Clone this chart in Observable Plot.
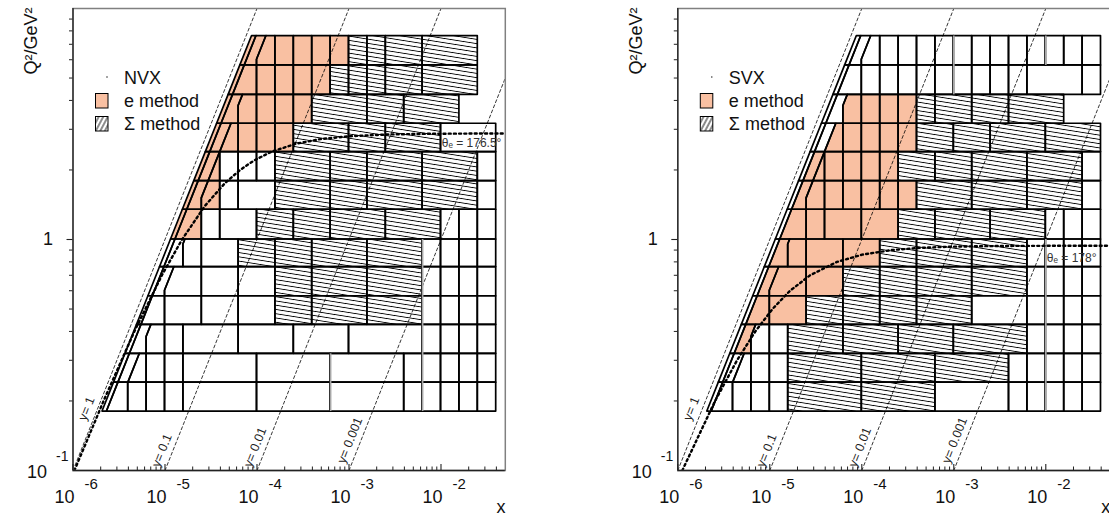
<!DOCTYPE html>
<html><head><meta charset="utf-8">
<script src="https://cdn.jsdelivr.net/npm/d3@7"></script>
<script src="https://cdn.jsdelivr.net/npm/@observablehq/plot@0.6"></script>
<style>
html,body{margin:0;padding:0;background:#fff;overflow:hidden}
#wrap{position:relative;width:1109px;height:516px;overflow:hidden}
#wrap svg{position:absolute;top:0}
</style></head><body>
<svg width="0" height="0" style="position:absolute">
 <defs>
  <pattern id="hatch" patternUnits="userSpaceOnUse" width="12" height="4.2" patternTransform="rotate(9)">
   <rect width="12" height="4.2" fill="#fff"/>
   <line x1="0" y1="2.1" x2="12" y2="2.1" stroke="#000" stroke-width="0.9"/>
  </pattern>
  <pattern id="hatchLeg" patternUnits="userSpaceOnUse" width="8" height="4" patternTransform="rotate(-62)">
   <rect width="8" height="4" fill="#fff"/>
   <line x1="0" y1="2" x2="8" y2="2" stroke="#000" stroke-width="0.9"/>
  </pattern>
 </defs>
</svg>
<div id="wrap"></div>
<script>
// ---------------- data ----------------
const S = 1e5;                       // Q^2 = S * x * y
const Y_OUTER = 0.86, Y_INNER = 0.77, Y_CUT = 0.6;   // slanted bin edges (in y)
const Q2_EDGES = [0.18, 0.24, 0.32, 0.427, 0.568, 0.76, 1.0, 1.345, 1.79, 2.39, 3.17, 4.23, 5.67, 7.6];
const X_EDGES = [1.0e-6, 1.585e-6, 2.512e-6, 3.981e-6, 6.310e-6, 1.0e-5, 1.585e-5, 2.512e-5, 3.981e-5, 6.310e-5,
                 1.0e-4, 1.585e-4, 2.512e-4, 3.981e-4, 6.310e-4, 1.0e-3, 1.585e-3, 2.512e-3, 3.981e-3, 6.310e-3,
                 1.0e-2, 1.585e-2, 2.512e-2, 3.981e-2];
const CUT_COL = [3, 3, 4, 5, 5, 6, 7, 7, 7, 8, 9, 10, 10];

// fills: e = e method (salmon), s = Sigma method (hatched), n = none
const NVX_STRIP = ["n","n","n","n","n","n","e","e","e","e","e","e","e"];
const NVX_C2    = ["n","n","n","n","n","n","e","e","e","e","e","e","e"];
const NVX_CELLS = [
  "4n 5n 6n 10n 14n 18n 19n 20n 21n 22n 23n",
  "4n 5n 6n 10n 14n 18n 19n 20n 21n 22n 23n",
  "5n 6n 9n 12n 15n 19n 20n 21n 22n 23n",
  "7n 9n 11n 13s 16s 19s 20n 21n 22n 23n",
  "7n 9n 11n 13s 16s 19s 20n 21n 22n 23n",
  "7n 9n 11s 13s 16s 19s 20n 21n 22n 23n",
  "8n 10n 12s 14s 17s 20s 21n 22n 23n",
  "8e 9n 11n 14s 16s 19s 22s 23n",
  "8e 9n 10n 11n 14s 16s 19s 22s 23n",
  "9e 10e 11e 12e 15s 17s 20s 23n",
  "10e 11e 12e 13e 16s 18s 21s",
  "11e 12e 13e 14e 15s 16s 17s 19s 22s",
  "11e 12e 13e 14e 15e 16s 17s 19s 22s"
];
const NVX_GRAY = [[14, 0, 1], [19, 0, 5]];

const SVX_STRIP = ["n","n","n","n","n","n","n","n","n","n","n","n","n"];
const SVX_C2    = ["n","n","e","e","e","e","e","e","e","n","n","n","n"];
const SVX_CELLS = [
  "4n 5n 6n 10s 14s 18n 19n 20n 21n 22n 23n",
  "4n 5n 6n 10s 14s 18s 19n 20n 21n 22n 23n",
  "5n 6n 9s 12s 15s 19s 20n 21n 22n 23n",
  "7e 9s 11s 13s 16s 19n 20n 21n 22n 23n",
  "7e 9e 11s 13s 16s 19s 20n 21n 22n 23n",
  "7e 9e 11e 13s 16s 19s 20n 21n 22n 23n",
  "8e 10e 12e 14s 17s 20s 21n 22n 23n",
  "8e 9e 10e 11e 12e 13e 16s 19s 22s 23n",
  "8e 9e 10e 11e 12e 14s 16s 19s 22s 23n",
  "9e 10e 11e 12e 13e 15s 17s 20s 23s",
  "10e 11e 12e 13e 14s 16s 18s 21s",
  "11n 12n 13n 14n 15n 16n 17n 18n 19n 22n 23n",
  "11n 12n 13n 14n 15n 16n 17n 18n 19n 20n 21n 22n 23n"
];
const SVX_GRAY = [[20, 0, 5], [15, 11, 12], [20, 12, 12]];

// constant-y lines (endpoints) and label anchor points
const Y_LINES = [
  {name: "y= 1",     p: [[1e-6, 0.1], [1e-4, 10]], lab: [1.85e-6, 0.185]},
  {name: "y= 0.1",   p: [[1e-5, 0.1], [1e-3, 10]], lab: [1.22e-5, 0.122]},
  {name: "y= 0.01",  p: [[1e-4, 0.1], [1e-2, 10]], lab: [1.26e-4, 0.126]},
  {name: "y= 0.001", p: [[1e-3, 0.1], [1e-1, 10]], lab: [1.35e-3, 0.135]}
];

// constant electron-angle curves (x, Q^2)
const THETA_NVX = [[1.036e-6,0.1],[2.149e-6,0.2],[4.645e-6,0.4],[9.248e-6,0.7],[1.532e-5,1.0],[2.724e-5,1.4],
  [4.46e-5,1.75],[6.545e-5,2.0],[9.318e-5,2.2],[1.44e-4,2.4],[2.674e-4,2.6],[4.896e-4,2.72],[1.008e-3,2.8],
  [2.736e-3,2.85],[8.266e-3,2.87],[4.145e-2,2.878],[5.0e-2,2.8783]];
const THETA_SVX = [[1.119e-6,0.1],[2.541e-6,0.2],[4.406e-6,0.3],[6.963e-6,0.4],[1.068e-5,0.5],[1.659e-5,0.6],
  [2.742e-5,0.7],[5.373e-5,0.8],[1.0106e-4,0.86],[2.115e-4,0.9],[4.323e-4,0.92],[8.741e-4,0.93],
  [1.758e-3,0.935],[4.408e-3,0.938],[1.766e-2,0.9395],[5.0e-2,0.9398]];

const X_MAJOR = [1e-6, 1e-5, 1e-4, 1e-3, 1e-2];
const X_EXP = ["-6", "-5", "-4", "-3", "-2"];
const Y_MINOR = [0.2,0.3,0.4,0.5,0.6,0.7,0.8,0.9,2,3,4,5,6,7,8,9];

const SALMON = "#f9c0a2";
const FONT = "Liberation Sans, Arial, Helvetica, sans-serif";

// ---------------- geometry helpers ----------------
function bx(B, q) {
  if (B.t === "y") return q / (S * B.y);
  if (B.t === "c") return X_EDGES[B.k];
  return Math.max(q / (S * B.y), X_EDGES[B.k]);
}
function buildPolys(strip, c2, cells) {
  const pts = []; let id = 0;
  for (let r = 0; r < 13; r++) {
    const q0 = Q2_EDGES[r], q1 = Q2_EDGES[r + 1];
    const bounds = [{t:"y", y:Y_OUTER}, {t:"y", y:Y_INNER}, {t:"m", y:Y_CUT, k:CUT_COL[r]}];
    const fills = [strip[r], c2[r]];
    for (const tok of cells[r].split(" ")) { bounds.push({t:"c", k:+tok.slice(0, -1)}); fills.push(tok.slice(-1)); }
    for (let i = 0; i < fills.length; i++) {
      const L = bounds[i], R = bounds[i + 1];
      const qs = [q0, q1];
      for (const B of [L, R]) if (B.t === "m") { const qb = S * B.y * X_EDGES[B.k]; if (qb > q0 && qb < q1) qs.push(qb); }
      qs.sort((a, b) => a - b);
      for (const q of qs) pts.push({id, fill: fills[i], Q: q, xl: bx(L, q), xr: bx(R, q)});
      id++;
    }
  }
  return pts;
}

function minorX() {
  const out = [];
  for (const d of X_MAJOR) for (let m = 2; m <= 9; m++) if (d * m < 0.05) out.push(d * m);
  return out;
}

function panel(o) {
  const pts = buildPolys(o.strip, o.c2, o.cells);
  const lines = Y_LINES.flatMap((l, i) => l.p.map(([x, q]) => ({i, x, q})));
  const gray = o.gray.map(([k, r0, r1]) => ({x: X_EDGES[k], q0: Q2_EDGES[r0], q1: Q2_EDGES[r1 + 1]}));
  const tX = 0.1 * Math.pow(10, 6 / 231), tXm = 0.1 * Math.pow(10, 3.5 / 231);
  const tY = 1e-6 * Math.pow(10, -6 / 92.06), tYm = 1e-6 * Math.pow(10, -3.5 / 92.06);
  return Plot.plot({
    width: o.width, height: 516, marginLeft: o.ml, marginRight: o.mr, marginTop: 8, marginBottom: 46,
    x: {type: "log", domain: [1e-6, 0.05], axis: null},
    y: {type: "log", domain: [0.1, 10], axis: null},
    style: {fontFamily: FONT, background: "transparent", overflow: "visible"},
    marks: [
      Plot.areaX(pts.filter(d => d.fill === "e"), {x1: "xl", x2: "xr", y: "Q", z: "id", fill: SALMON, curve: "linear"}),
      Plot.areaX(pts.filter(d => d.fill === "s"), {x1: "xl", x2: "xr", y: "Q", z: "id", fill: "url(#hatch)", curve: "linear"}),
      Plot.line(lines, {x: "x", y: "q", z: "i", stroke: "#000", strokeWidth: 0.8, strokeDasharray: "3,2.5", clip: true}),
      Plot.areaX(pts, {x1: "xl", x2: "xr", y: "Q", z: "id", fill: "none", stroke: "#000", strokeWidth: 1.7, curve: "linear"}),
      Plot.ruleX(gray, {x: "x", y1: "q0", y2: "q1", stroke: "#a8a8a8", strokeWidth: 1.7}),
      Plot.line(o.curve, {x: d => d[0], y: d => d[1], stroke: "#000", strokeWidth: 2.4, strokeDasharray: "2,3.2", clip: true}),
      Plot.text([o.theta], {x: d => d[0], y: d => d[1], text: d => d[2], textAnchor: "start", lineAnchor: "middle", fontSize: 12, fill: "#333"}),
      Plot.text(Y_LINES, {x: d => d.lab[0], y: d => d.lab[1], text: "name", rotate: -68.3, dx: -11, textAnchor: "middle", lineAnchor: "middle", fontSize: 12.5, fill: "#222"}),
      // frame & axes
      Plot.frame({stroke: "#808080", strokeWidth: 1.5}),
      Plot.ruleX([1e-6], {stroke: "#222", strokeWidth: 1.3}),
      Plot.ruleY([0.1], {stroke: "#222", strokeWidth: 1.3}),
      Plot.ruleX(X_MAJOR, {x: d => d, y1: 0.1, y2: tX, stroke: "#222", strokeWidth: 1.1}),
      Plot.ruleX(minorX(), {x: d => d, y1: 0.1, y2: tXm, stroke: "#222", strokeWidth: 1}),
      Plot.ruleY([1], {y: d => d, x1: tY, x2: 1e-6, stroke: "#222", strokeWidth: 1.1}),
      Plot.ruleY(Y_MINOR, {y: d => d, x1: tYm, x2: 1e-6, stroke: "#222", strokeWidth: 1}),
      Plot.text(X_MAJOR, {x: d => d, y: 0.1, text: () => "10", textAnchor: "end", lineAnchor: "bottom", dx: 1.5, dy: 32, fontSize: 18, fill: "#111"}),
      Plot.text(X_MAJOR, {x: d => d, y: 0.1, text: (d, i) => X_EXP[i], textAnchor: "start", lineAnchor: "bottom", dx: 11.5, dy: 18, fontSize: 15, fill: "#111"}),
      Plot.text([1], {x: 1e-6, y: d => d, text: () => "1", textAnchor: "end", lineAnchor: "middle", dx: -20, fontSize: 18, fill: "#111"}),
      Plot.text([0.1], {x: 1e-6, y: d => d, text: () => "10", textAnchor: "end", lineAnchor: "bottom", dx: -26, dy: 7, fontSize: 18, fill: "#111"}),
      Plot.text([0.1], {x: 1e-6, y: d => d, text: () => "-1", textAnchor: "start", lineAnchor: "bottom", dx: -17, dy: -10, fontSize: 14, fill: "#111"}),
      Plot.text(["x"], {x: 0.05, y: 0.1, text: d => d, textAnchor: "middle", lineAnchor: "bottom", dx: -4.3, dy: 42, fontSize: 18, fill: "#111"}),
      Plot.text(["Q²/GeV²"], {x: 1e-6, y: 10, text: d => d, rotate: -90, textAnchor: "end", lineAnchor: "bottom", dx: -36, dy: -1, fontSize: 18, fill: "#111"})
    ]
  });
}

const wrap = document.getElementById("wrap");
const left = panel({width: 555, ml: 72.5, mr: 50.2, strip: NVX_STRIP, c2: NVX_C2, cells: NVX_CELLS, gray: NVX_GRAY,
  curve: THETA_NVX, theta: [0.0102, 2.6, "θₑ = 176.5°"]});
left.style.left = "0px";
wrap.appendChild(left);
const right = panel({width: 570, ml: 122.3, mr: 15.4, strip: SVX_STRIP, c2: SVX_C2, cells: SVX_CELLS, gray: SVX_GRAY,
  curve: THETA_SVX, theta: [0.01026, 0.83, "θₑ = 178°"]});
right.style.left = "555px";
wrap.appendChild(right);

// legends
const LEGENDS = [{x0: 0, name: "NVX"}, {x0: 604.8, name: "SVX"}];
const ov = d3.select(wrap).append("svg").attr("width", 1109).attr("height", 516).style("left", "0px")
  .attr("font-family", FONT).attr("font-size", 18).attr("fill", "#111");
for (const L of LEGENDS) {
  const g = ov.append("g").attr("transform", `translate(${L.x0},0)`);
  g.append("circle").attr("cx", 107).attr("cy", 77).attr("r", 0.8).attr("fill", "#333");
  g.append("text").attr("x", 124).attr("y", 83.5).text(L.name);
  g.append("rect").attr("x", 95.5).attr("y", 93.5).attr("width", 12.5).attr("height", 14.5).attr("fill", SALMON).attr("stroke", "#000").attr("stroke-width", 1);
  g.append("text").attr("x", 124).attr("y", 106.5).text("e method");
  g.append("rect").attr("x", 95.5).attr("y", 116.5).attr("width", 12.5).attr("height", 14.5).attr("fill", "url(#hatchLeg)").attr("stroke", "#000").attr("stroke-width", 1);
  g.append("text").attr("x", 124).attr("y", 129.5).text("Σ method");
}
</script></body></html>
